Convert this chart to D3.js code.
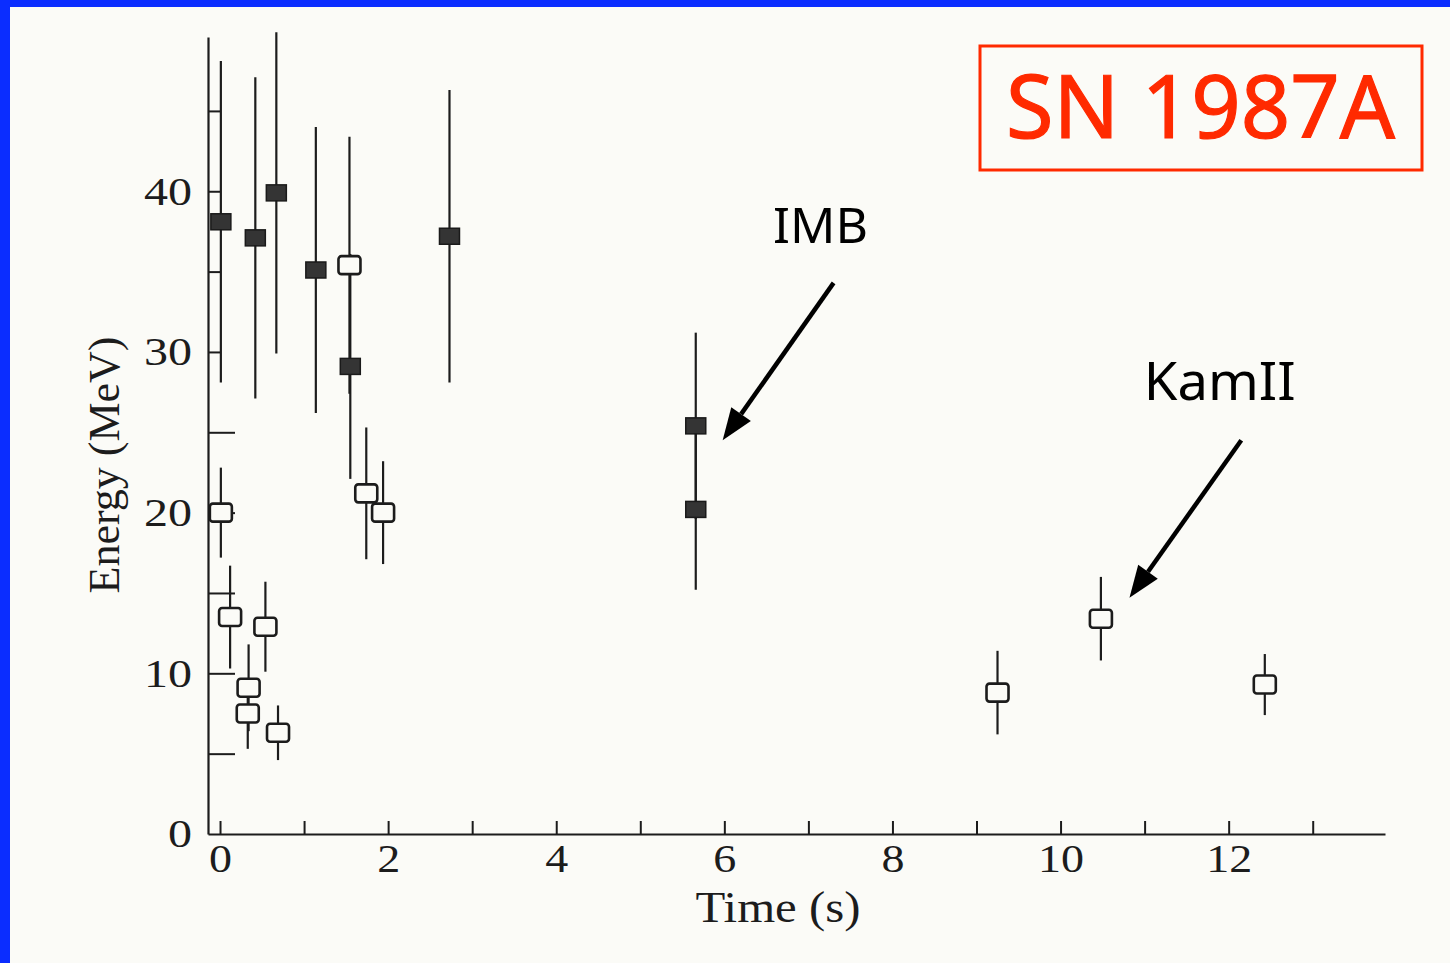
<!DOCTYPE html>
<html>
<head>
<meta charset="utf-8">
<script src="https://cdn.jsdelivr.net/npm/d3@7"></script>
<style>
  html, body { margin: 0; padding: 0; background: #fbfbf7; }
  svg { display: block; }
</style>
</head>
<body>
<svg id="chart" width="1450" height="963"></svg>
<script>
// IMB events (filled squares): time (s), energy (MeV), symmetric error (MeV)
const imbTime   = [0.01, 0.42, 0.67, 1.14, 1.55, 2.73, 5.66, 5.66];
const imbEnergy = [38.1, 37.1, 39.9, 35.1, 29.1, 37.2, 25.4, 20.2];
const imbError  = [10.0, 10.0, 10.0, 8.9, 7.0, 9.1, 5.8, 5.0];

// Kamiokande II events (open squares)
const kamTime   = [0.01, 0.12, 0.34, 0.33, 0.54, 0.69, 1.54, 1.74, 1.94, 9.25, 10.48, 12.43];
const kamEnergy = [20.0, 13.5, 9.1, 7.5, 12.9, 6.3, 35.4, 21.2, 20.0, 8.8, 13.4, 9.3];
const kamError  = [2.8, 3.2, 2.7, 2.2, 2.8, 1.7, 8.0, 4.1, 3.2, 2.6, 2.6, 1.9];

// Axis ticks and labels
const xTicks = [0, 1, 2, 3, 4, 5, 6, 7, 8, 9, 10, 11, 12, 13];
const xLabels = [0, 2, 4, 6, 8, 10, 12];
const yTicks = [5, 10, 15, 20, 25, 30, 35, 40, 45];
const yLabels = [0, 10, 20, 30, 40];

const titleText = "SN 1987A";
const xTitle = "Time (s)";
const yTitle = "Energy (MeV)";

const svg = d3.select("#chart");
const ink = "#1c1c1c";

// frame stripes along top and left edges
svg.append("rect").attr("x", 0).attr("y", 0).attr("width", 1450).attr("height", 7).attr("fill", "#0b2dff");
svg.append("rect").attr("x", 0).attr("y", 0).attr("width", 10).attr("height", 963).attr("fill", "#0b2dff");

const x = d3.scaleLinear().domain([-0.143, 13.86]).range([208, 1385]);
const y = d3.scaleLinear().domain([0, 49.6]).range([834, 37]);

const serif = "'Liberation Serif', 'Times New Roman', serif";

// x axis: inward ticks, labels at even seconds
const xAxis = svg.append("g")
  .attr("transform", `translate(0,${y(0)})`)
  .call(d3.axisBottom(x)
    .tickValues(xTicks)
    .tickSizeInner(-13)
    .tickSizeOuter(0)
    .tickPadding(10)
    .tickFormat(d => xLabels.includes(d) ? d : ""));
xAxis.select(".domain").attr("stroke", ink).attr("stroke-width", 2.2);
xAxis.selectAll(".tick line").attr("stroke", ink).attr("stroke-width", 2);
xAxis.selectAll(".tick text")
  .attr("fill", ink).attr("font-family", serif).attr("font-size", 40)
  .each(function(d) {
    const s = xLabels.includes(d) ? String(d) : "";
    if (s) d3.select(this).attr("textLength", s.length * 23).attr("lengthAdjust", "spacingAndGlyphs");
  });

// y axis: inward ticks at every 5 MeV
const yAxis = svg.append("g")
  .attr("transform", `translate(${x.range()[0]},0)`)
  .call(d3.axisLeft(y)
    .tickValues([0].concat(yTicks))
    .tickSizeInner(-13)
    .tickSizeOuter(0)
    .tickPadding(16)
    .tickFormat(d => yLabels.includes(d) ? d : ""));
yAxis.select(".domain").attr("stroke", ink).attr("stroke-width", 2.2);
yAxis.selectAll(".tick line")
  .attr("stroke", ink).attr("stroke-width", 2)
  .attr("x2", d => d === 0 ? 0 : (d <= 25 ? 27 : 13));
yAxis.selectAll(".tick text")
  .attr("fill", ink).attr("font-family", serif).attr("font-size", 40)
  .each(function(d) {
    const s = yLabels.includes(d) ? String(d) : "";
    if (s) d3.select(this).attr("textLength", s.length * 24).attr("lengthAdjust", "spacingAndGlyphs");
  });

// axis titles
svg.append("text")
  .attr("x", 778).attr("y", 922)
  .attr("text-anchor", "middle")
  .attr("font-family", serif).attr("font-size", 44).attr("fill", ink)
  .attr("textLength", 165).attr("lengthAdjust", "spacingAndGlyphs")
  .text(xTitle);
svg.append("text")
  .attr("transform", "translate(119,465) rotate(-90)")
  .attr("text-anchor", "middle")
  .attr("font-family", serif).attr("font-size", 44).attr("fill", ink)
  .text(yTitle);

const imb = imbTime.map((t, i) => ({ t, e: imbEnergy[i], err: imbError[i] }));
const kam = kamTime.map((t, i) => ({ t, e: kamEnergy[i], err: kamError[i] }));

// error bars
const bars = svg.append("g").attr("stroke", ink).attr("stroke-width", 2.2);
bars.selectAll("line.imb").data(imb).join("line")
  .attr("class", "imb")
  .attr("x1", d => x(d.t)).attr("x2", d => x(d.t))
  .attr("y1", d => y(d.e + d.err)).attr("y2", d => y(d.e - d.err));
bars.selectAll("line.kam").data(kam).join("line")
  .attr("class", "kam")
  .attr("x1", d => x(d.t)).attr("x2", d => x(d.t))
  .attr("y1", d => y(d.e + d.err)).attr("y2", d => y(d.e - d.err));

// open squares: Kamiokande II
svg.append("g").selectAll("rect").data(kam).join("rect")
  .attr("x", d => x(d.t) - 11).attr("y", d => y(d.e) - 9)
  .attr("width", 22).attr("height", 18).attr("rx", 3)
  .attr("fill", "#fbfbf7").attr("stroke", ink).attr("stroke-width", 2.6);

// filled squares: IMB
svg.append("g").selectAll("rect").data(imb).join("rect")
  .attr("x", d => x(d.t) - 10).attr("y", d => y(d.e) - 8)
  .attr("width", 20).attr("height", 16)
  .attr("fill", "#343434").attr("stroke", "#1a1a1a").attr("stroke-width", 1.5);

// detector labels with arrows
const handFont = "'Comic Sans MS', 'Noto Sans', sans-serif";
const notes = [
  { label: "IMB",   lt: 6.58, le: 36.8, size: 50, len: 95,  from: [7.30, 34.3], to: [5.98, 24.5] },
  { label: "KamII", lt: 10.99, le: 27.0, size: 53, len: 152, from: [12.15, 24.5], to: [10.82, 14.7] }
];
notes.forEach(n => {
  svg.append("text")
    .attr("x", x(n.lt)).attr("y", y(n.le))
    .attr("font-family", handFont).attr("font-size", n.size).attr("fill", "#000")
    .attr("textLength", n.len).attr("lengthAdjust", "spacingAndGlyphs")
    .text(n.label);
  const x1 = x(n.from[0]), y1 = y(n.from[1]);
  const x2 = x(n.to[0]),   y2 = y(n.to[1]);
  const ang = Math.atan2(y2 - y1, x2 - x1);
  const headLen = 32, headHalf = 12;
  const bx = x2 - headLen * Math.cos(ang), by = y2 - headLen * Math.sin(ang);
  svg.append("line")
    .attr("x1", x1).attr("y1", y1).attr("x2", bx).attr("y2", by)
    .attr("stroke", "#000").attr("stroke-width", 4.5);
  const px = -Math.sin(ang) * headHalf, py = Math.cos(ang) * headHalf;
  svg.append("polygon")
    .attr("points", [[x2, y2], [bx + px, by + py], [bx - px, by - py]].map(p => p.join(",")).join(" "))
    .attr("fill", "#000");
});

// title box
svg.append("rect")
  .attr("x", 980).attr("y", 46).attr("width", 442).attr("height", 124)
  .attr("fill", "none").attr("stroke", "#ff2a00").attr("stroke-width", 3);
svg.append("text")
  .attr("x", 1006).attr("y", 138)
  .attr("font-family", handFont).attr("font-size", 88).attr("fill", "#ff2a00")
  .attr("stroke", "#ff2a00").attr("stroke-width", 1.2)
  .attr("textLength", 389).attr("lengthAdjust", "spacingAndGlyphs")
  .text(titleText);
</script>
</body>
</html>
